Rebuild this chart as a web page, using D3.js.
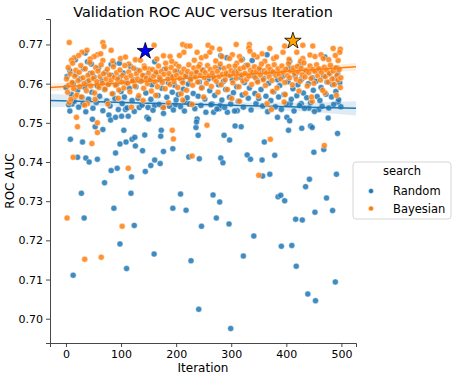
<!DOCTYPE html>
<html>
<head>
<meta charset="utf-8">
<script src="https://cdn.jsdelivr.net/npm/d3@7"></script>
<style>
  body { margin: 0; background: #fff; }
  text { font-family: "DejaVu Sans", sans-serif; fill: #000; }
</style>
</head>
<body>
<div id="chart"></div>
<script>
(function(d3) {

// search types shown in the legend
var searches = ['Random', 'Bayesian'];

// random search points: [iteration, roc auc]
var randomPoints = [
  [13,0.7111],[98,0.7191],[110,0.7128],[160,0.7165],[227,0.7148],[241,0.7024],[299,0.6975],[322,0.7160],
  [341,0.7211],[391,0.7185],[410,0.7187],[418,0.7134],[439,0.7063],[453,0.7046],[489,0.7094],
  [53,0.7490],[67,0.7483],[105,0.7481],[143,0.7469],[173,0.7481],[236,0.7488],[8,0.7458],[30,0.7451],
  [98,0.7446],[109,0.7451],[120,0.7458],[125,0.7463],[126,0.7441],[172,0.7466],[240,0.7468],[139,0.7429],
  [177,0.7427],[194,0.7434],[21,0.7412],[36,0.7410],[42,0.7400],[57,0.7407],[90,0.7423],[82,0.7378],
  [93,0.7384],[119,0.7362],[144,0.7376],[154,0.7391],[161,0.7405],[171,0.7396],[223,0.7413],[242,0.7408],
  [70,0.7347],[28,0.7320],[118,0.7320],[208,0.7318],[87,0.7282],[194,0.7282],[218,0.7277],[33,0.7257],
  [124,0.7238],[246,0.7236],
  [307,0.7492],[318,0.7490],[404,0.7481],[428,0.7486],[444,0.7492],[447,0.7488],[493,0.7473],[287,0.7468],
  [297,0.7456],[360,0.7451],[468,0.7432],[450,0.7425],[281,0.7410],[285,0.7398],[329,0.7418],[335,0.7407],
  [356,0.7405],[379,0.7417],[357,0.7364],[370,0.7369],[491,0.7369],[442,0.7356],[435,0.7337],[267,0.7316],
  [279,0.7298],[385,0.7311],[390,0.7315],[397,0.7301],[473,0.7308],[452,0.7272],[484,0.7276],[273,0.7257],
  [296,0.7242],[417,0.7254],[429,0.7252],
  [7,0.7530],[48,0.7509],[78,0.7520],[81,0.7507],[90,0.7514],[101,0.7517],[113,0.7517],[133,0.7539],
  [147,0.7514],[150,0.7510],[108,0.7534],[11,0.7548],[31,0.7548],[238,0.7510],[237,0.7502],[268,0.7527],
  [278,0.7536],[280,0.7544],[293,0.7527],[311,0.7531],[176,0.7539],[199,0.7546],[216,0.7555],[225,0.7548],
  [161,0.7544],[265,0.7548],[384,0.7514],[401,0.7514],[406,0.7505],[476,0.7512],[459,0.7534],[441,0.7538],
  [427,0.7549],[407,0.7549],[494,0.7553],
  [35,0.7678],[17,0.7661],[39,0.7656],[46,0.7650],[82,0.7649],[97,0.7652],[292,0.7666],[320,0.7662],
  [281,0.7671],[161,0.7656],[365,0.7674],[406,0.7657],[425,0.7649],[338,0.7659],[470,0.7668],[492,0.7640],
  [0,0.7590],[2,0.7618],[5,0.7546],[7,0.7633],[10,0.7572],[13,0.7601],[15,0.7555],[18,0.7624],[21,0.7583],
  [23,0.7540],[26,0.7612],[29,0.7565],[32,0.7638],[34,0.7591],[36,0.7528],[39,0.7605],[41,0.7560],
  [44,0.7626],[47,0.7578],[49,0.7537],[51,0.7616],[55,0.7552],[57,0.7594],[59,0.7640],[61,0.7568],
  [65,0.7608],[67,0.7531],[70,0.7585],[72,0.7629],[74,0.7556],[77,0.7600],[80,0.7543],[83,0.7621],
  [85,0.7574],[87,0.7650],[89,0.7562],[92,0.7598],[95,0.7534],[97,0.7615],[100,0.7580],[102,0.7549],
  [104,0.7627],[106,0.7566],[109,0.7603],[111,0.7538],[115,0.7588],[117,0.7644],[120,0.7557],[122,0.7610],
  [124,0.7529],[127,0.7592],[129,0.7634],[131,0.7563],[136,0.7606],[138,0.7545],[142,0.7620],[145,0.7576],
  [149,0.7539],[152,0.7613],[154,0.7560],[156,0.7597],[158,0.7532],[163,0.7625],[167,0.7570],[169,0.7547],
  [171,0.7609],[174,0.7588],[177,0.7524],[179,0.7637],[183,0.7565],[186,0.7602],[188,0.7542],[190,0.7618],
  [193,0.7578],[195,0.7533],[197,0.7596],[200,0.7559],[202,0.7631],[204,0.7572],[208,0.7541],[211,0.7607],
  [213,0.7586],[215,0.7530],[218,0.7622],[220,0.7564],[222,0.7599],[224,0.7548],[227,0.7614],[231,0.7575],
  [234,0.7536],[236,0.7628],[240,0.7568],[242,0.7604],[245,0.7544],[247,0.7590],[249,0.7635],[252,0.7561],
  [254,0.7527],[258,0.7611],[261,0.7582],[263,0.7546],[267,0.7617],[270,0.7570],[274,0.7535],[277,0.7597],
  [279,0.7641],[283,0.7558],[286,0.7606],[288,0.7539],[290,0.7585],[294,0.7623],[297,0.7565],[299,0.7548],
  [302,0.7610],[304,0.7577],[306,0.7530],[308,0.7632],[310,0.7592],[313,0.7555],[317,0.7616],[320,0.7571],
  [322,0.7540],[324,0.7603],[327,0.7646],[331,0.7563],[333,0.7589],[336,0.7533],[340,0.7620],[343,0.7575],
  [345,0.7549],[347,0.7608],[350,0.7562],[352,0.7636],[354,0.7585],[357,0.7543],[359,0.7613],[363,0.7568],
  [366,0.7528],[368,0.7601],[372,0.7557],[374,0.7627],[377,0.7579],[380,0.7541],[384,0.7610],[386,0.7566],
  [388,0.7595],[391,0.7534],[393,0.7618],[396,0.7572],[400,0.7548],[403,0.7605],[405,0.7639],[409,0.7560],
  [412,0.7587],[414,0.7530],[416,0.7621],[419,0.7569],[421,0.7597],[424,0.7544],[428,0.7612],[431,0.7576],
  [433,0.7537],[435,0.7629],[437,0.7564],[440,0.7600],[444,0.7551],[447,0.7615],[449,0.7583],[451,0.7529],
  [454,0.7606],[456,0.7567],[458,0.7634],[461,0.7557],[463,0.7590],[465,0.7542],[468,0.7619],[472,0.7573],
  [474,0.7604],[477,0.7538],[479,0.7625],[482,0.7566],[484,0.7598],[486,0.7547],[488,0.7613],[490,0.7580],
  [493,0.7626],[495,0.7559],[497,0.7602],[499,0.7541]
];

// bayesian search points: [iteration, roc auc]
var bayesPoints = [
  [34,0.7152],[64,0.7157],[21,0.7490],[57,0.7475],[193,0.7481],[47,0.7447],[195,0.7459],[13,0.7412],
  [113,0.7384],[229,0.7415],[2,0.7257],[102,0.7236],[256,0.7494],[371,0.7458],[469,0.7442],[350,0.7366],
  [19,0.7514],[57,0.7500],[39,0.7549],[177,0.7539],[212,0.7558],[315,0.7555],[365,0.7549],[373,0.7534],
  [396,0.7553],[447,0.7555],
  [6,0.7705],[67,0.7705],[69,0.7695],[82,0.7685],[57,0.7674],[38,0.7685],[29,0.7680],[99,0.7664],
  [126,0.7661],[142,0.7645],[114,0.7650],[15,0.7666],[160,0.7698],[151,0.7637],[67,0.7659],[51,0.7669],
  [212,0.7700],[219,0.7696],[225,0.7696],[258,0.7698],[265,0.7691],[279,0.7688],[309,0.7700],[333,0.7700],
  [332,0.7691],[177,0.7671],[189,0.7669],[214,0.7680],[238,0.7680],[246,0.7666],[261,0.7680],[283,0.7669],
  [302,0.7674],[315,0.7669],[334,0.7683],[181,0.7652],[199,0.7650],[243,0.7649],[310,0.7652],
  [370,0.7690],[397,0.7696],[430,0.7698],[448,0.7696],[498,0.7688],[497,0.7680],[485,0.7690],[356,0.7676],
  [394,0.7680],[419,0.7680],[443,0.7673],[463,0.7674],[467,0.7664],[494,0.7659],[377,0.7664],[347,0.7668],
  [430,0.7664],
  [10,0.7660],[23,0.7672],[44,0.7663],[63,0.7676],[85,0.7658],[108,0.7668],[135,0.7660],[165,0.7663],
  [192,0.7657],[206,0.7672],[233,0.7660],[254,0.7670],[272,0.7658],[297,0.7664],[318,0.7660],[341,0.7673],
  [361,0.7657],[382,0.7668],[405,0.7662],[426,0.7657],[452,0.7669],[477,0.7661],[489,0.7672],
  [6,0.7552],[17,0.7567],[34,0.7545],[53,0.7560],[76,0.7548],[95,0.7563],[119,0.7540],[140,0.7557],
  [163,0.7570],[186,0.7551],[209,0.7574],[229,0.7547],[250,0.7566],[276,0.7578],[301,0.7562],[326,0.7575],
  [349,0.7569],[375,0.7580],[398,0.7572],[423,0.7581],[446,0.7566],[470,0.7577],[491,0.7570],
  [1,0.7612],[3,0.7578],[4,0.7641],[5,0.7596],[8,0.7625],[9,0.7560],[11,0.7603],[12,0.7652],[14,0.7587],
  [16,0.7619],[18,0.7634],[20,0.7571],[22,0.7608],[24,0.7629],[25,0.7592],[27,0.7646],[28,0.7566],
  [31,0.7615],[33,0.7600],[35,0.7638],[37,0.7582],[40,0.7621],[42,0.7608],[43,0.7654],[45,0.7594],
  [48,0.7627],[50,0.7613],[52,0.7576],[54,0.7641],[56,0.7605],[58,0.7632],[60,0.7590],[62,0.7618],
  [64,0.7648],[66,0.7601],[68,0.7625],[71,0.7586],[73,0.7612],[75,0.7637],[77,0.7598],[79,0.7622],
  [82,0.7609],[84,0.7574],[86,0.7643],[88,0.7616],[90,0.7596],[92,0.7628],[94,0.7611],[96,0.7584],
  [98,0.7635],[101,0.7604],[103,0.7621],[105,0.7589],[107,0.7646],[110,0.7615],[112,0.7601],[114,0.7630],
  [116,0.7579],[118,0.7620],[121,0.7607],[123,0.7639],[125,0.7594],[128,0.7625],[130,0.7612],[132,0.7569],
  [134,0.7633],[137,0.7608],[139,0.7621],[141,0.7588],[143,0.7640],[146,0.7614],[148,0.7600],[150,0.7627],
  [153,0.7610],[155,0.7581],[157,0.7636],[159,0.7619],[162,0.7604],[164,0.7629],[166,0.7592],[168,0.7645],
  [170,0.7616],[173,0.7631],[175,0.7603],[178,0.7624],[180,0.7587],[182,0.7638],[185,0.7612],[187,0.7626],
  [189,0.7598],[191,0.7641],[194,0.7618],[196,0.7605],[198,0.7632],[201,0.7621],[203,0.7590],[205,0.7644],
  [207,0.7613],[210,0.7628],[212,0.7602],[214,0.7637],[217,0.7619],[219,0.7583],[221,0.7631],[223,0.7648],
  [226,0.7609],[228,0.7625],[230,0.7596],[232,0.7640],[235,0.7617],[237,0.7630],[239,0.7604],[241,0.7643],
  [244,0.7622],[246,0.7589],[248,0.7634],[251,0.7615],[253,0.7628],[255,0.7601],[257,0.7646],[260,0.7620],
  [262,0.7636],[264,0.7593],[266,0.7627],[269,0.7612],[271,0.7641],[273,0.7606],[275,0.7631],[278,0.7618],
  [280,0.7650],[282,0.7597],[284,0.7624],[287,0.7639],[289,0.7610],[291,0.7627],[293,0.7585],[296,0.7644],
  [298,0.7621],[300,0.7633],[303,0.7602],[305,0.7628],[307,0.7645],[309,0.7614],[312,0.7630],[314,0.7592],
  [316,0.7638],[319,0.7622],[321,0.7607],[323,0.7641],[325,0.7626],[328,0.7611],[330,0.7647],[332,0.7619],
  [335,0.7634],[337,0.7598],[339,0.7629],[342,0.7643],[344,0.7615],[346,0.7631],[348,0.7604],[351,0.7639],
  [353,0.7622],[355,0.7650],[358,0.7610],[360,0.7633],[362,0.7595],[364,0.7627],[367,0.7644],[369,0.7617],
  [371,0.7636],[374,0.7608],[376,0.7630],[378,0.7648],[381,0.7621],[383,0.7589],[385,0.7638],[387,0.7624],
  [390,0.7612],[392,0.7645],[394,0.7629],[397,0.7603],[399,0.7637],[402,0.7620],[404,0.7651],[406,0.7615],
  [408,0.7633],[411,0.7597],[413,0.7640],[415,0.7626],[418,0.7611],[420,0.7644],[422,0.7630],[425,0.7606],
  [427,0.7639],[429,0.7622],[432,0.7653],[434,0.7617],[436,0.7634],[438,0.7594],[441,0.7628],[443,0.7645],
  [445,0.7613],[448,0.7636],[450,0.7601],[452,0.7631],[455,0.7648],[457,0.7620],[459,0.7638],[462,0.7609],
  [464,0.7629],[466,0.7583],[469,0.7642],[471,0.7618],[473,0.7635],[476,0.7604],[478,0.7626],[480,0.7647],
  [483,0.7612],[485,0.7632],[487,0.7598],[490,0.7640],[492,0.7621],[494,0.7609],[496,0.7636],[498,0.7590],
  [499,0.7615]
];

// best scores (stars)
var bestRandom = [144, 0.7683];
var bestBayes = [412, 0.7709];

// regression fits with confidence band half widths
var fitIters = [-29, 60, 150, 250, 350, 440, 526.5];
var randomFit = [0.7557, 0.7554, 0.7550, 0.7547, 0.7543, 0.7540, 0.7537];
var randomBand = [0.0017, 0.0012, 0.0009, 0.0007, 0.0009, 0.0012, 0.0018];
var bayesFit = [0.7590, 0.7598, 0.7607, 0.7617, 0.7626, 0.7635, 0.7643];
var bayesBand = [0.0010, 0.0007, 0.0005, 0.0004, 0.0005, 0.0007, 0.0010];

var xTicks = [0, 100, 200, 300, 400, 500];
var yTicks = [0.70, 0.71, 0.72, 0.73, 0.74, 0.75, 0.76, 0.77];

var width = 457,
    height = 380,
    left = 50, right = 356, top = 19, bottom = 343;

var blue = '#1f77b4', orange = '#ff7f0e';

var svg = d3.select('#chart')
  .append('svg')
  .attr('width', width)
  .attr('height', height);

var x = d3.scaleLinear().domain([-29, 526.5]).range([left, right]);
var y = d3.scaleLinear().domain([0.6938, 0.7765]).range([bottom, top]);

function drawPoints(points, color) {
  svg.append('g')
    .selectAll('circle')
    .data(points)
    .enter()
    .append('circle')
    .attr('cx', function(d) { return x(d[0]); })
    .attr('cy', function(d) { return y(d[1]); })
    .attr('r', 3)
    .attr('fill', color)
    .attr('fill-opacity', 0.85)
    .attr('stroke', '#fff')
    .attr('stroke-width', 0.5)
    .attr('stroke-opacity', 0.8);
}

function drawFit(fit, band, color) {
  var rows = fitIters.map(function(it, i) { return { it: it, mid: fit[i], hw: band[i] }; });
  svg.append('path')
    .datum(rows)
    .attr('d', d3.area()
      .curve(d3.curveMonotoneX)
      .x(function(d) { return x(d.it); })
      .y0(function(d) { return y(d.mid - d.hw); })
      .y1(function(d) { return y(d.mid + d.hw); }))
    .attr('fill', color)
    .attr('fill-opacity', 0.15);
  svg.append('path')
    .datum(rows)
    .attr('d', d3.line()
      .x(function(d) { return x(d.it); })
      .y(function(d) { return y(d.mid); }))
    .attr('fill', 'none')
    .attr('stroke', color)
    .attr('stroke-width', 1.5);
}

drawPoints(randomPoints, blue);
drawFit(randomFit, randomBand, blue);
drawPoints(bayesPoints, orange);
drawFit(bayesFit, bayesBand, orange);

// stars for the best result of each search
var star = d3.symbol().type(d3.symbolStar).size(85);
[[bestRandom, 'blue'], [bestBayes, 'orange']].forEach(function(s) {
  svg.append('path')
    .attr('d', star)
    .attr('transform', 'translate(' + x(s[0][0]) + ',' + y(s[0][1]) + ')')
    .attr('fill', s[1])
    .attr('stroke', '#000')
    .attr('stroke-width', 0.8);
});

// axes
var xAxis = svg.append('g')
  .attr('transform', 'translate(0,' + bottom + ')')
  .call(d3.axisBottom(x).tickValues(xTicks).tickSize(4).tickPadding(3));
var yAxis = svg.append('g')
  .attr('transform', 'translate(' + left + ',0)')
  .call(d3.axisLeft(y).tickValues(yTicks).tickFormat(d3.format('.2f')).tickSize(4).tickPadding(3));
[xAxis, yAxis].forEach(function(a) {
  a.selectAll('text').style('font-size', '11px').attr('fill', '#000');
  a.select('.domain').attr('stroke', '#333').attr('stroke-width', 0.9);
  a.selectAll('.tick line').attr('stroke', '#333').attr('stroke-width', 0.9);
});

svg.append('text')
  .attr('x', (left + right) / 2)
  .attr('y', 17)
  .attr('text-anchor', 'middle')
  .style('font-size', '14.4px')
  .text('Validation ROC AUC versus Iteration');

svg.append('text')
  .attr('x', (left + right) / 2)
  .attr('y', 372)
  .attr('text-anchor', 'middle')
  .style('font-size', '12px')
  .text('Iteration');

svg.append('text')
  .attr('transform', 'translate(14,' + ((top + bottom) / 2) + ') rotate(-90)')
  .attr('text-anchor', 'middle')
  .style('font-size', '12px')
  .text('ROC AUC');

// legend
var legend = svg.append('g').attr('transform', 'translate(353,162)');
legend.append('rect')
  .attr('width', 98).attr('height', 57)
  .attr('rx', 3)
  .attr('fill', '#fff')
  .attr('stroke', '#ccc')
  .attr('stroke-width', 0.8);
legend.append('text')
  .attr('x', 49).attr('y', 13)
  .attr('text-anchor', 'middle')
  .style('font-size', '11.5px')
  .text('search');
searches.forEach(function(name, i) {
  var yy = 29 + i * 17.5;
  legend.append('circle')
    .attr('cx', 18).attr('cy', yy)
    .attr('r', 2.5)
    .attr('fill', i === 0 ? blue : orange)
    .attr('stroke', '#fff').attr('stroke-width', 0.4);
  legend.append('text')
    .attr('x', 40).attr('y', yy + 4)
    .style('font-size', '11.5px')
    .text(name);
});

})(window.d3);
</script>
</body>
</html>
